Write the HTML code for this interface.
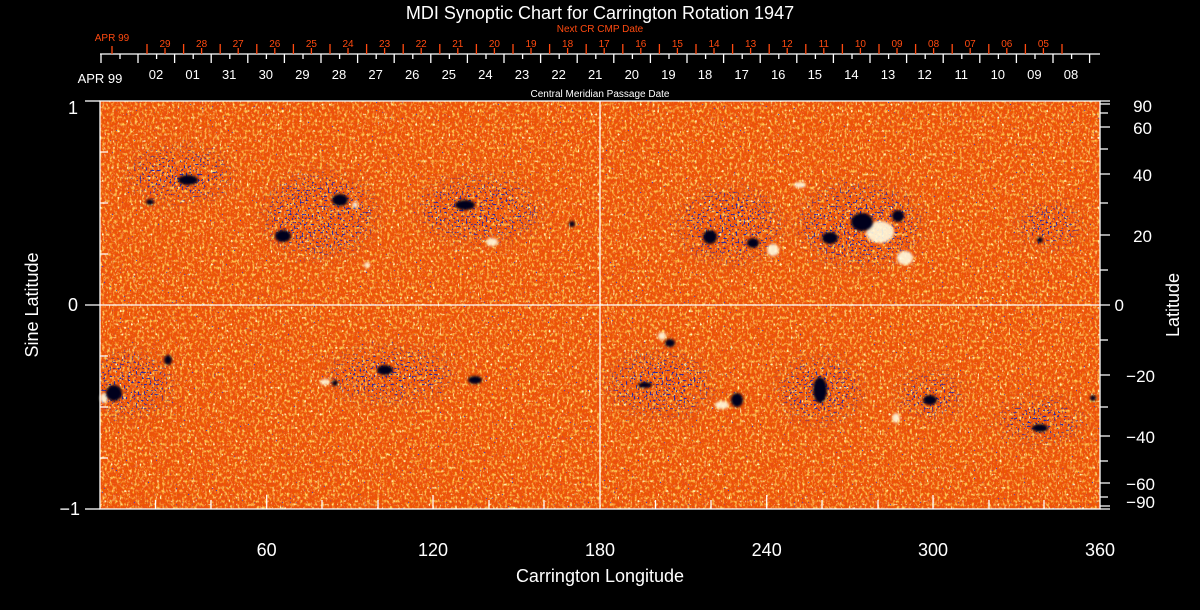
<!DOCTYPE html>
<html><head><meta charset="utf-8"><style>
html,body{margin:0;padding:0;background:#000;width:1200px;height:610px;overflow:hidden}
svg{display:block}
text{font-family:"Liberation Sans",sans-serif}
</style></head><body>
<svg width="1200" height="610" viewBox="0 0 1200 610" xmlns="http://www.w3.org/2000/svg">
<defs>
<filter id="y" x="0" y="0" width="100%" height="100%">
<feTurbulence type="fractalNoise" baseFrequency="0.4 0.3" numOctaves="2" seed="3"/>
<feColorMatrix type="matrix" values="0 0 0 0 1  0 0 0 0 0.62  0 0 0 0 0.1  3.2 0 0 0 -1.55"/>
</filter>
<filter id="y2" x="0" y="0" width="100%" height="100%">
<feTurbulence type="fractalNoise" baseFrequency="0.45 0.3" numOctaves="1" seed="77"/>
<feColorMatrix type="matrix" values="0 0 0 0 1  0 0 0 0 0.95  0 0 0 0 0.5  8 0 0 0 -5.2"/>
</filter>
<filter id="r" x="0" y="0" width="100%" height="100%">
<feTurbulence type="fractalNoise" baseFrequency="0.45 0.35" numOctaves="2" seed="9"/>
<feColorMatrix type="matrix" values="0 0 0 0 0.85  0 0 0 0 0.1  0 0 0 0 0  3 0 0 0 -1.1"/>
</filter>
<filter id="b" x="0" y="0" width="100%" height="100%">
<feTurbulence type="fractalNoise" baseFrequency="0.5" numOctaves="1" seed="21"/>
<feColorMatrix type="matrix" values="0 0 0 0 0.05  0 0 0 0 0.05  0 0 0 0 0.6  0 0 -14 0 3.9"/>
</filter>
<filter id="bd" x="0" y="0" width="100%" height="100%">
<feTurbulence type="fractalNoise" baseFrequency="0.5" numOctaves="1" seed="55"/>
<feColorMatrix type="matrix" values="0 0 0 0 0.02  0 0 0 0 0.02  0 0 0 0 0.4  0 0 -14 0 5.6"/>
</filter>
<filter id="blur"><feGaussianBlur stdDeviation="1.2"/></filter>
<filter id="mb"><feGaussianBlur stdDeviation="8"/></filter>
<mask id="act" maskUnits="userSpaceOnUse" x="100" y="101" width="1000" height="408">
<g fill="#fff" filter="url(#mb)">
<ellipse cx="180" cy="175" rx="50" ry="25"/><ellipse cx="320" cy="215" rx="55" ry="40"/>
<ellipse cx="480" cy="210" rx="60" ry="30"/><ellipse cx="730" cy="225" rx="50" ry="35"/>
<ellipse cx="860" cy="225" rx="60" ry="40"/><ellipse cx="130" cy="385" rx="40" ry="30"/>
<ellipse cx="390" cy="375" rx="60" ry="25"/><ellipse cx="660" cy="385" rx="50" ry="30"/>
<ellipse cx="820" cy="390" rx="40" ry="30"/><ellipse cx="930" cy="395" rx="30" ry="20"/>
<ellipse cx="1040" cy="420" rx="40" ry="20"/><ellipse cx="1050" cy="225" rx="30" ry="20"/>
</g>
</mask>
</defs>
<rect x="100" y="101" width="1000" height="408" fill="#ec4e10"/>
<rect x="100" y="101" width="1000" height="408" filter="url(#r)"/>
<rect x="100" y="101" width="1000" height="408" filter="url(#y)"/>
<rect x="100" y="101" width="1000" height="408" filter="url(#y2)"/>
<rect x="100" y="101" width="1000" height="408" filter="url(#b)"/>
<rect x="100" y="101" width="1000" height="408" filter="url(#bd)" mask="url(#act)"/>
<g fill="#fffbe0" opacity="0.9" filter="url(#blur)">
<ellipse cx="880" cy="232" rx="14" ry="11"/><ellipse cx="905" cy="258" rx="8" ry="7"/>
<ellipse cx="773" cy="250" rx="6" ry="6"/><ellipse cx="722" cy="405" rx="7" ry="4"/>
<ellipse cx="662" cy="336" rx="4" ry="4"/><ellipse cx="896" cy="418" rx="4" ry="5"/>
<ellipse cx="492" cy="242" rx="6" ry="4"/><ellipse cx="104" cy="398" rx="4" ry="5"/>
<ellipse cx="800" cy="185" rx="6" ry="3"/><ellipse cx="325" cy="382" rx="5" ry="3"/>
<ellipse cx="367" cy="265" rx="3" ry="3"/><ellipse cx="355" cy="205" rx="3" ry="3"/>
</g>
<g fill="#04031e" filter="url(#blur)">
<ellipse cx="188" cy="180" rx="10" ry="5"/><ellipse cx="150" cy="202" rx="4" ry="3"/>
<ellipse cx="283" cy="236" rx="8" ry="6"/><ellipse cx="340" cy="200" rx="8" ry="6"/>
<ellipse cx="465" cy="205" rx="10" ry="5"/><ellipse cx="572" cy="224" rx="3" ry="3"/>
<ellipse cx="710" cy="237" rx="7" ry="7"/><ellipse cx="753" cy="243" rx="6" ry="5"/>
<ellipse cx="862" cy="222" rx="11" ry="9"/><ellipse cx="898" cy="216" rx="6" ry="6"/>
<ellipse cx="830" cy="238" rx="8" ry="6"/><ellipse cx="1040" cy="240" rx="3" ry="3"/>
<ellipse cx="114" cy="393" rx="8" ry="8"/><ellipse cx="168" cy="360" rx="4" ry="5"/>
<ellipse cx="670" cy="343" rx="5" ry="4"/><ellipse cx="737" cy="400" rx="6" ry="7"/>
<ellipse cx="820" cy="390" rx="7" ry="13"/><ellipse cx="930" cy="400" rx="7" ry="5"/>
<ellipse cx="1093" cy="398" rx="3" ry="3"/><ellipse cx="1040" cy="428" rx="8" ry="4"/>
<ellipse cx="385" cy="370" rx="8" ry="5"/><ellipse cx="475" cy="380" rx="7" ry="4"/>
<ellipse cx="645" cy="385" rx="7" ry="3"/><ellipse cx="335" cy="383" rx="3" ry="3"/>
</g>
<g stroke="#fff" stroke-width="1.3" fill="none">
<rect x="100" y="101" width="1000" height="408"/>
<line x1="600" y1="101" x2="600" y2="509"/>
<line x1="85" y1="305" x2="1110" y2="305"/>
<line x1="85" y1="101" x2="100" y2="101"/><line x1="85" y1="509" x2="100" y2="509"/>
<path d="M100 152h8M100 203h8M100 254h8M100 356h8M100 407h8M100 458h8"/>
<path d="M155.5 509v-9M211 509v-9M266.7 509v-14M322 509v-9M378 509v-9M433 509v-14M489 509v-9M544 509v-9M655.5 509v-9M711 509v-9M766.7 509v-14M822 509v-9M878 509v-9M933 509v-14M989 509v-9M1044 509v-9"/>
<path d="M1100 101h10M1100 104h10M1100 113h8M1100 127h10M1100 149h8M1100 174h10M1100 203h8M1100 235h10M1100 270h8M1100 340h8M1100 375h10M1100 407h8M1100 436h10M1100 461h8M1100 483h10M1100 497h8M1100 506h10M1100 509h10"/>
<line x1="100" y1="54" x2="1100" y2="54"/>
<path d="M101 54v9M138 54v9m36.6 -9v9m36.6 -9v9m36.6 -9v9m36.6 -9v9m36.6 -9v9m36.6 -9v9m36.6 -9v9m36.6 -9v9m36.6 -9v9m36.6 -9v9m36.6 -9v9m36.6 -9v9m36.6 -9v9m36.6 -9v9m36.6 -9v9m36.6 -9v9m36.6 -9v9m36.6 -9v9m36.6 -9v9m36.6 -9v9m36.6 -9v9m36.6 -9v9m36.6 -9v9m36.6 -9v9m36.6 -9v9m36.6 -9v9"/>
<path d="M120 54v5m36.6 -5v5m36.6 -5v5m36.6 -5v5m36.6 -5v5m36.6 -5v5m36.6 -5v5m36.6 -5v5m36.6 -5v5m36.6 -5v5m36.6 -5v5m36.6 -5v5m36.6 -5v5m36.6 -5v5m36.6 -5v5m36.6 -5v5m36.6 -5v5m36.6 -5v5m36.6 -5v5m36.6 -5v5m36.6 -5v5m36.6 -5v5m36.6 -5v5m36.6 -5v5m36.6 -5v5m36.6 -5v5m36.6 -5v5"/>
</g>
<g stroke="#ff4a10" stroke-width="1.3" fill="none">
<path d="M112 54v-8M147 54v-10m36.6 10v-10m36.6 10v-10m36.6 10v-10m36.6 10v-10m36.6 10v-10m36.6 10v-10m36.6 10v-10m36.6 10v-10m36.6 10v-10m36.6 10v-10m36.6 10v-10m36.6 10v-10m36.6 10v-10m36.6 10v-10m36.6 10v-10m36.6 10v-10m36.6 10v-10m36.6 10v-10m36.6 10v-10m36.6 10v-10m36.6 10v-10m36.6 10v-10m36.6 10v-10m36.6 10v-10m36.6 10v-10"/>
<path d="M165 54v-6m36.6 6v-6m36.6 6v-6m36.6 6v-6m36.6 6v-6m36.6 6v-6m36.6 6v-6m36.6 6v-6m36.6 6v-6m36.6 6v-6m36.6 6v-6m36.6 6v-6m36.6 6v-6m36.6 6v-6m36.6 6v-6m36.6 6v-6m36.6 6v-6m36.6 6v-6m36.6 6v-6m36.6 6v-6m36.6 6v-6m36.6 6v-6m36.6 6v-6m36.6 6v-6m36.6 6v-6"/>
</g>
<g font-size="18" fill="#fff" text-anchor="middle">
<text x="600" y="19">MDI Synoptic Chart for Carrington Rotation 1947</text>
<text x="600" y="582">Carrington Longitude</text>
<text x="266.7" y="556">60</text><text x="433" y="556">120</text><text x="600" y="556">180</text><text x="766.7" y="556">240</text><text x="933" y="556">300</text><text x="1100" y="556">360</text>
<text x="78" y="114" text-anchor="end">1</text><text x="78" y="311" text-anchor="end">0</text><text x="80" y="515" text-anchor="end">−1</text>
<text transform="translate(38,305) rotate(-90)">Sine Latitude</text>
<text transform="translate(1179,305) rotate(-90)">Latitude</text>
</g>
<g font-size="17" fill="#fff" text-anchor="end">
<text x="1152" y="112">90</text><text x="1152" y="134">60</text><text x="1152" y="181">40</text><text x="1152" y="242">20</text><text x="1124" y="311">0</text><text x="1155" y="382">−20</text><text x="1155" y="443">−40</text><text x="1155" y="490">−60</text><text x="1155" y="508">−90</text>
</g>
<text x="600" y="97" font-size="10" fill="#fff" text-anchor="middle">Central Meridian Passage Date</text>
<g font-size="10" fill="#ff4a10" text-anchor="middle">
<text x="600" y="32">Next CR CMP Date</text>
<text x="112" y="41">APR 99</text>
<text x="165" y="47">29</text><text x="201.6" y="47">28</text><text x="238.2" y="47">27</text><text x="274.8" y="47">26</text><text x="311.4" y="47">25</text><text x="348" y="47">24</text><text x="384.6" y="47">23</text><text x="421.2" y="47">22</text><text x="457.8" y="47">21</text><text x="494.4" y="47">20</text><text x="531" y="47">19</text><text x="567.6" y="47">18</text><text x="604.2" y="47">17</text><text x="640.8" y="47">16</text><text x="677.4" y="47">15</text><text x="714" y="47">14</text><text x="750.6" y="47">13</text><text x="787.2" y="47">12</text><text x="823.8" y="47">11</text><text x="860.4" y="47">10</text><text x="897" y="47">09</text><text x="933.6" y="47">08</text><text x="970.2" y="47">07</text><text x="1006.8" y="47">06</text><text x="1043.4" y="47">05</text>
</g>
<g font-size="13" fill="#fff" text-anchor="middle">
<text x="100" y="83">APR 99</text>
<text x="156" y="79">02</text><text x="192.6" y="79">01</text><text x="229.2" y="79">31</text><text x="265.8" y="79">30</text><text x="302.4" y="79">29</text><text x="339" y="79">28</text><text x="375.6" y="79">27</text><text x="412.2" y="79">26</text><text x="448.8" y="79">25</text><text x="485.4" y="79">24</text><text x="522" y="79">23</text><text x="558.6" y="79">22</text><text x="595.2" y="79">21</text><text x="631.8" y="79">20</text><text x="668.4" y="79">19</text><text x="705" y="79">18</text><text x="741.6" y="79">17</text><text x="778.2" y="79">16</text><text x="814.8" y="79">15</text><text x="851.4" y="79">14</text><text x="888" y="79">13</text><text x="924.6" y="79">12</text><text x="961.2" y="79">11</text><text x="997.8" y="79">10</text><text x="1034.4" y="79">09</text><text x="1071" y="79">08</text>
</g>
</svg>
</body></html>
